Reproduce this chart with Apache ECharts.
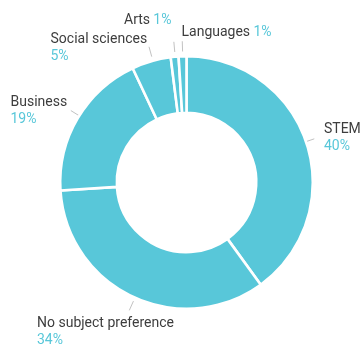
<!DOCTYPE html>
<html><head><meta charset="utf-8">
<script src="https://cdn.jsdelivr.net/npm/echarts@6/dist/echarts.min.js"></script>
<style>html,body{margin:0;padding:0;background:#fff}#c{width:361px;height:345px}</style>
</head><body><div id="c"></div>
<script>
const categories = ['STEM', 'No subject preference', 'Business', 'Social sciences', 'Arts', 'Languages'];
const shares = [40, 34, 19, 5, 1, 1];
const inlineLabel = [false, false, false, false, true, true];

// layout: top-left corner of each label block
const labelBoxes = [[324, 120.5], [37, 314.5], [10.5, 93.5], [50.5, 31], [124, 12], [181.5, 23.5]];

const MAIN = '#58C7D9';
const data = categories.map((c, i) => ({ name: c, value: shares[i] }));
const CX = 186.5, CY = 182.5, R = 125;
// leader lines follow the slightly oval outline of the reference ring
const SX = 121.7 / R, SY = 128 / R;

const chart = echarts.init(document.getElementById('c'), null, { renderer: 'canvas' });
chart.setOption({
  animation: false,
  backgroundColor: '#fff',
  series: [
    {
      type: 'pie',
      center: [CX, CY],
      radius: [69.7, R + 1.3],
      startAngle: 90,
      clockwise: true,
      silent: true,
      data: data,
      itemStyle: { color: MAIN, borderColor: '#fff', borderWidth: 2.6 },
      label: { show: false },
      labelLine: { show: false },
      z: 2
    },
    {
      type: 'pie',
      center: [CX, CY],
      radius: [0, 128],
      startAngle: 90,
      clockwise: true,
      silent: true,
      avoidLabelOverlap: false,
      data: data,
      itemStyle: { color: 'rgba(0,0,0,0)' },
      label: {
        show: true,
        position: 'outside',
        formatter: function (p) {
          const i = p.dataIndex;
          return inlineLabel[i]
            ? '{n|' + p.name + '} {p|' + shares[i] + '%}'
            : '{n|' + p.name + '}\n{p|' + shares[i] + '%}';
        },
        rich: {
          n: { fontFamily: 'Roboto', fontSize: 14, color: '#3d3d3d', lineHeight: 17 },
          p: { fontFamily: 'Roboto', fontSize: 14, color: MAIN, lineHeight: 17 }
        }
      },
      labelLine: {
        show: true,
        length: 10,
        length2: 0,
        minTurnAngle: 0,
        lineStyle: { color: '#c2c2c2', width: 1 }
      },
      labelLayout: function (params) {
        const pts = params.labelLinePoints;
        const box = labelBoxes[params.dataIndex];
        const out = { x: box[0], y: box[1], align: 'left', verticalAlign: 'top' };
        if (pts) {
          out.labelLinePoints = [pts[0], pts[1]].map(function (p) {
            return [CX + (p[0] - CX) * SX, CY + (p[1] - CY) * SY];
          });
        }
        return out;
      },
      z: 1
    }
  ]
});
</script>
</body></html>
